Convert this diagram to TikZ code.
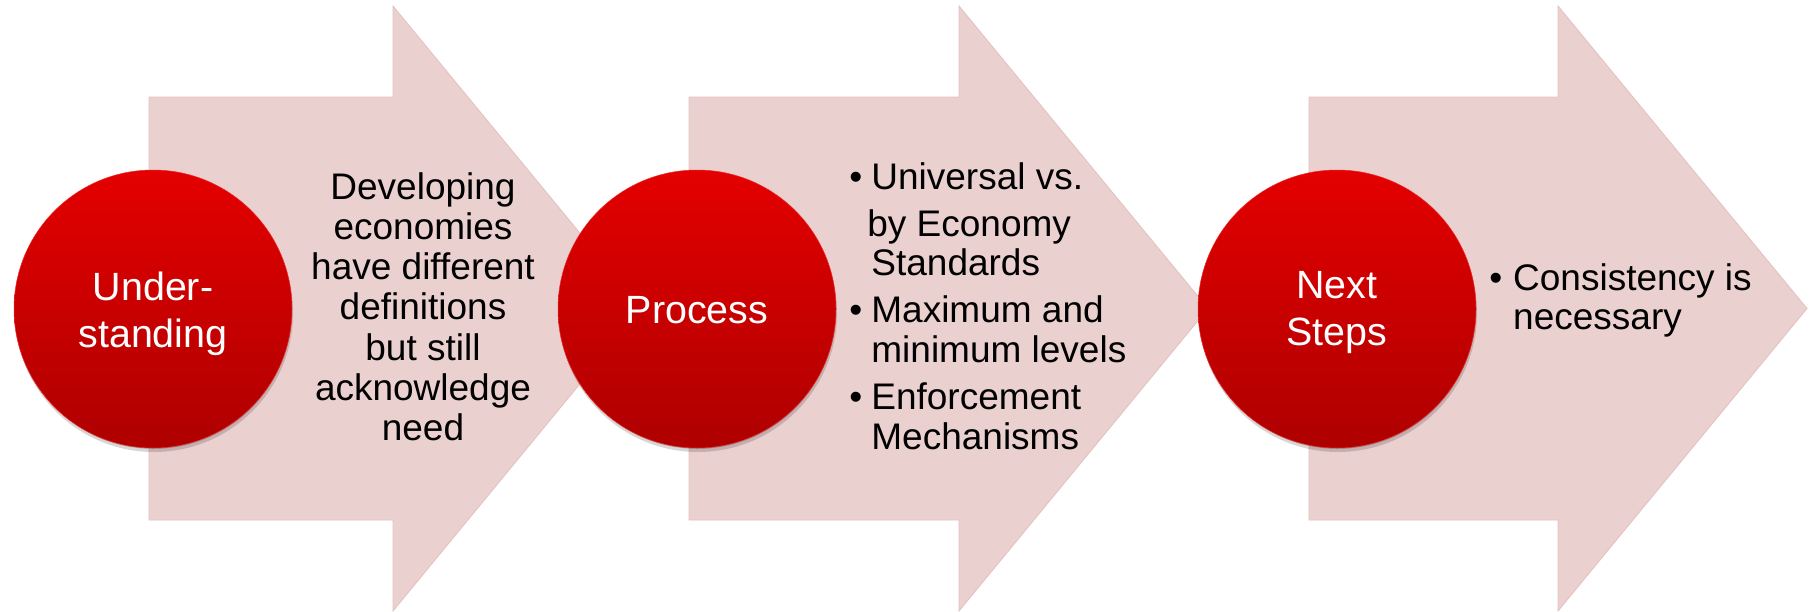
\documentclass[tikz,border=0pt]{standalone}
\usepackage{fontspec}
\setmainfont{Liberation Sans}
\definecolor{arrowpink}{RGB}{235,208,208}
\definecolor{arrowedge}{RGB}{228,192,192}
\definecolor{circtop}{RGB}{228,0,0}
\definecolor{circbot}{RGB}{174,0,0}
\definecolor{circrim}{RGB}{236,40,40}
\begin{document}
\begin{tikzpicture}[x=1pt,y=-1pt,
  arrowshape/.style={fill=arrowpink, draw=arrowedge, line width=0.8pt, line join=miter},
  stepcircle/.style={circle, minimum size=278pt, inner sep=0pt, top color=circtop, bottom color=circbot, draw=circrim, line width=0.5pt},
  circshadow/.style={circle, minimum size=278pt, inner sep=0pt, fill=black, fill opacity=0.16},
  circtext/.style={text=white, font=\fontsize{39.4}{47}\selectfont, inner sep=0pt, anchor=base},
  bodytext/.style={text=black, font=\fontsize{37}{40.15}\selectfont, inner sep=0pt}]

\useasboundingbox (0,0) rectangle (1810,611);

% block arrows
\path[arrowshape] (149,97) -- (393,97) -- (393,6) -- (642,308.5) -- (393,611) -- (393,520) -- (149,520) -- cycle;
\path[arrowshape] (689,97) -- (959,97) -- (959,6) -- (1208,308.5) -- (959,611) -- (959,520) -- (689,520) -- cycle;
\path[arrowshape] (1309,97) -- (1558,97) -- (1558,6) -- (1807,308.5) -- (1558,611) -- (1558,520) -- (1309,520) -- cycle;

% circle shadows
\node[circshadow] (s1) at (154,313) {};
\node[circshadow] (s2) at (698,313) {};
\node[circshadow] (s3) at (1338,313) {};
\node[circshadow, minimum size=276pt] (s1b) at (153.5,311) {};
\node[circshadow, minimum size=276pt] (s2b) at (697.5,311) {};
\node[circshadow, minimum size=276pt] (s3b) at (1337.5,311) {};

% circles
\node[stepcircle] (c1) at (153,309) {};
\node[stepcircle] (c2) at (697,309) {};
\node[stepcircle] (c3) at (1337,309) {};

% circle labels
\node[circtext] (l1) at (153,300.7) {\begin{tabular}[t]{@{}c@{}}Under-\\standing\end{tabular}};
\node[circtext] (l2) at (697,323) {Process};
\node[circtext] (l3) at (1337,298) {\begin{tabular}[t]{@{}c@{}}Next\\Steps\end{tabular}};

% arrow texts
\node[bodytext, anchor=base] (d1) at (423,199.5) {\begin{tabular}[t]{@{}c@{}}Developing\\economies\\have different\\definitions\\but still\\acknowledge\\need\end{tabular}};

\node[bodytext, anchor=base west] (d2) at (849.2,189) {\begin{tabular}[t]{@{}l@{}}%
\makebox[22pt][l]{\textbullet}Universal vs.\\[7pt]
\hspace{18pt}by Economy\\[-0.5pt]
\hspace{22pt}Standards\\[7pt]
\makebox[22pt][l]{\textbullet}Maximum and\\[-0.8pt]
\hspace{22pt}minimum levels\\[7pt]
\makebox[22pt][l]{\textbullet}Enforcement\\
\hspace{22pt}Mechanisms
\end{tabular}};

\node[bodytext, anchor=base west] (d3) at (1489.2,290.3) {\begin{tabular}[t]{@{}l@{}}%
\makebox[23.8pt][l]{\textbullet}Consistency is\\[-1pt]
\hspace{23.8pt}necessary
\end{tabular}};
\end{tikzpicture}
\end{document}
